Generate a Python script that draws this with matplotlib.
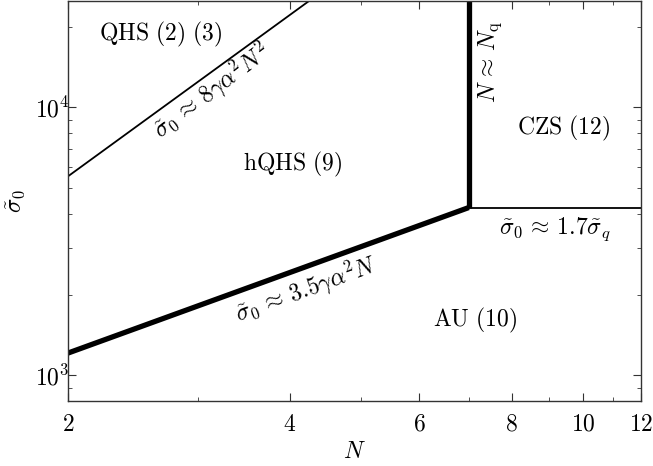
import numpy as np
import matplotlib
matplotlib.use('Agg')
import matplotlib.pyplot as plt
from matplotlib.ticker import FixedLocator, NullFormatter, LogLocator

plt.rcParams['mathtext.fontset'] = 'cm'
plt.rcParams['font.family'] = 'serif'
plt.rcParams['font.serif'] = ['cmr10', 'DejaVu Serif']
plt.rcParams['axes.formatter.use_mathtext'] = True
plt.rcParams['font.size'] = 17

# boundaries of the regimes (N, sigma_0)
qhs_N = [2, 4.25]
qhs_s = [5530, 25000]
au_N = [2, 7]
au_s = [1210, 4230]
nq_N = [7, 7]
nq_s = [4230, 25000]
czs_N = [7, 12]
czs_s = [4230, 4230]

xticks = [2, 4, 6, 8, 10, 12]
xminor = [3, 5, 7, 9, 11]

fig = plt.figure(figsize=(6.53, 4.66), dpi=100)
ax = fig.add_axes([0.104, 0.139, 0.878, 0.859])

ax.plot(qhs_N, qhs_s, color='k', lw=1.3)
ax.plot(au_N, au_s, color='k', lw=3.8, solid_capstyle='butt')
ax.plot(nq_N, nq_s, color='k', lw=3.8, solid_capstyle='butt')
ax.plot(czs_N, czs_s, color='k', lw=1.3)

ax.set_xscale('log')
ax.set_yscale('log')
ax.set_xlim(2, 12)
ax.set_ylim(800, 25000)

ax.xaxis.set_major_locator(FixedLocator(xticks))
ax.xaxis.set_minor_locator(FixedLocator(xminor))
ax.set_xticklabels(['$%d$' % v for v in xticks])
ax.xaxis.set_minor_formatter(NullFormatter())
ax.yaxis.set_major_locator(LogLocator(base=10))
ax.yaxis.set_minor_locator(LogLocator(base=10, subs=np.arange(2, 10)))
ax.yaxis.set_minor_formatter(NullFormatter())

ax.tick_params(which='both', direction='in', top=True, right=True, color='0.2')
ax.tick_params(which='major', length=6)
ax.tick_params(axis='x', which='major', pad=9)
ax.tick_params(axis='y', which='major', pad=-1)
ax.tick_params(which='minor', length=3)
for s in ax.spines.values():
    s.set_color('0.2')
    s.set_linewidth(1.0)

ax.set_xlabel('$N$')
ax.xaxis.set_label_coords(0.5, -0.098)
ax.set_ylabel(r'$\tilde{\sigma}_0$')
ax.yaxis.set_label_coords(-0.07, 0.5)

ax.text(2.67, 18660, r'$\mathrm{QHS\ (2)\ (3)}$', ha='center', va='center')
ax.text(3.14, 11500, r'$\tilde{\sigma}_0 \,\approx\, 8\gamma\alpha^2 N^2$',
        ha='center', va='center', rotation=37)
ax.text(4.03, 6140, r'$\mathrm{hQHS\ (9)}$', ha='center', va='center')
ax.text(9.41, 8360, r'$\mathrm{CZS\ (12)}$', ha='center', va='center')
ax.text(7.48, 14830, r'$N \,\approx\, N_\mathrm{q}$', ha='center', va='center',
        rotation=90)
ax.text(9.17, 3520, r'$\tilde{\sigma}_0 \,\approx\, 1.7\tilde{\sigma}_q$',
        ha='center', va='center')
ax.text(4.21, 2100, r'$\tilde{\sigma}_0 \,\approx\, 3.5\gamma\alpha^2 N$',
        ha='center', va='center', rotation=20)
ax.text(7.14, 1600, r'$\mathrm{AU\ (10)}$', ha='center', va='center')

fig.savefig('out.png', dpi=100)
